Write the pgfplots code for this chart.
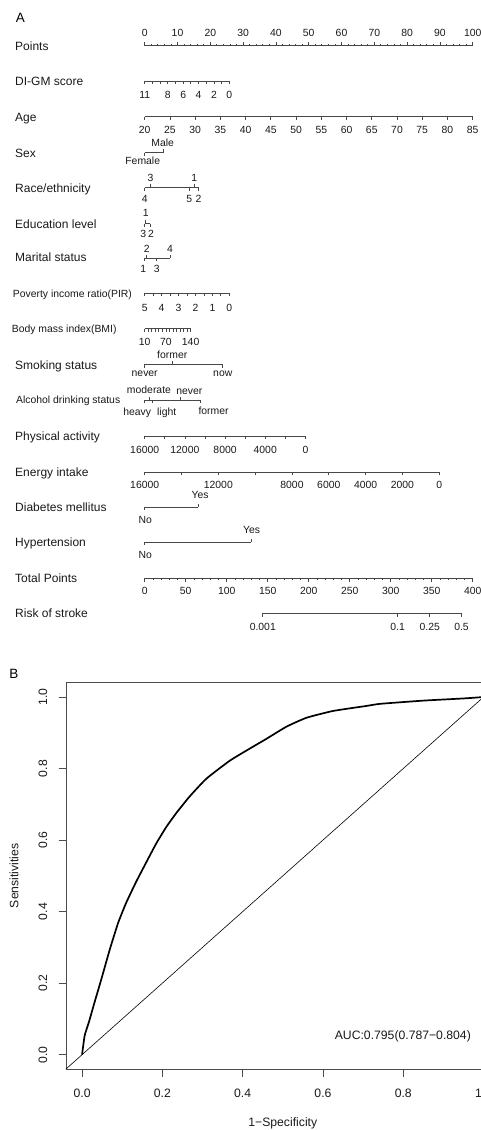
\documentclass[border=0pt]{standalone}
\usepackage{fontspec}
\setmainfont{Liberation Sans}
\usepackage{pgfplots}
\pgfplotsset{compat=1.18}
\newcommand\fL{\fontsize{12}{14}\selectfont}
\newcommand\fS{\fontsize{10.4}{12}\selectfont}
\newcommand\fR{\fontsize{12.2}{14}\selectfont}
\newcommand\fH{\fontsize{13.5}{16}\selectfont}
\pgfplotsset{
  nl/.style={draw=black!72, line width=0.75pt, mark=none},
  tk/.style={draw=black!72, line width=0.75pt, mark=none, quiver={u=0,v=#1}},
  lb/.style={draw=none, mark=none, nodes near coords, point meta=explicit symbolic,
    nodes near coords style={anchor=center, font=\fS, text=black!90, inner sep=0pt, text height=7.45pt, text depth=0pt}},
}
\tikzset{
  rowlab/.style={anchor=west, font=\fL, text=black!90, inner sep=0pt, text height=8.6pt, text depth=0pt},
  rowlabs/.style={anchor=west, font=\fS, text=black!90, inner sep=0pt, text height=7.45pt, text depth=0pt},
}
\begin{document}
\begin{tikzpicture}
\begin{axis}[
  at={(0pt,0pt)}, anchor=north west,
  x=3.28pt, y=1pt, y dir=reverse,
  xmin=-44.116, xmax=102.53, ymin=0, ymax=1130,
  enlargelimits=false, hide axis, clip=false,
]
% panel label
\node[anchor=west, font=\fH, inner sep=0pt, text height=9.7pt, text depth=0pt] at (axis cs:-39.3,18) {A};
\node[anchor=west, font=\fH, inner sep=0pt, text height=9.7pt, text depth=0pt] at (axis cs:-41.3,673.3) {B};
% row labels
\node[rowlab] at (axis cs:-39.54,45.7) {Points};
\node[rowlab] at (axis cs:-39.54,81) {DI-GM score};
\node[rowlab] at (axis cs:-39.54,116.7) {Age};
\node[rowlab] at (axis cs:-39.54,153) {Sex};
\node[rowlab] at (axis cs:-39.54,188.3) {Race/ethnicity};
\node[rowlab] at (axis cs:-39.54,224) {Education level};
\node[rowlab] at (axis cs:-39.54,257.3) {Marital status};
\node[rowlabs] at (axis cs:-40.24,293.3) {Poverty income ratio(PIR)};
\node[rowlabs] at (axis cs:-40.55,328.3) {Body mass index(BMI)};
\node[rowlab] at (axis cs:-39.54,365) {Smoking status};
\node[rowlabs] at (axis cs:-39.24,400) {Alcohol drinking status};
\node[rowlab] at (axis cs:-39.54,435.7) {Physical activity};
\node[rowlab] at (axis cs:-39.54,471.7) {Energy intake};
\node[rowlab] at (axis cs:-39.54,507.3) {Diabetes mellitus};
\node[rowlab] at (axis cs:-39.54,541.7) {Hypertension};
\node[rowlab] at (axis cs:-39.54,578.3) {Total Points};
\node[rowlab] at (axis cs:-39.54,613.3) {Risk of stroke};

% Points
\addplot[nl] coordinates {(0,45.7) (100,45.7)};
\addplot[tk=-4] table[row sep=\\, x=v, y expr=45.7] {v\\0\\10\\20\\30\\40\\50\\60\\70\\80\\90\\100\\};
\addplot[tk=-1.8] table[row sep=\\, x=v, y expr=45.7] {v\\2\\4\\6\\8\\12\\14\\16\\18\\22\\24\\26\\28\\32\\34\\36\\38\\42\\44\\46\\48\\52\\54\\56\\58\\62\\64\\66\\68\\72\\74\\76\\78\\82\\84\\86\\88\\92\\94\\96\\98\\};
\addplot[lb] table[row sep=\\, x=v, y expr=32.3, meta=v] {v\\0\\10\\20\\30\\40\\50\\60\\70\\80\\90\\100\\};

% DI-GM score
\addplot[nl] coordinates {(0,81) (25.8,81)};
\addplot[tk=3] table[row sep=\\, x expr={(11-\thisrow{v})*25.8/11}, y expr=81] {v\\0\\1\\2\\3\\4\\5\\6\\7\\8\\9\\10\\11\\};
\addplot[lb] table[row sep=\\, x expr={(11-\thisrow{v})*25.8/11}, y expr=95, meta=v] {v\\11\\8\\6\\4\\2\\0\\};

% Age
\addplot[nl] coordinates {(0,116.7) (100,116.7)};
\addplot[tk=3.3] table[row sep=\\, x expr={(\thisrow{v}-20)*100/65}, y expr=116.7] {v\\20\\25\\30\\35\\40\\45\\50\\55\\60\\65\\70\\75\\80\\85\\};
\addplot[lb] table[row sep=\\, x expr={(\thisrow{v}-20)*100/65}, y expr=130.2, meta=v] {v\\20\\25\\30\\35\\40\\45\\50\\55\\60\\65\\70\\75\\80\\85\\};

% Sex
\addplot[nl] coordinates {(0,152.5) (5.6,152.5)};
\addplot[tk=3.3] coordinates {(0,152.5)};
\addplot[tk=-3.3] coordinates {(5.6,152.5)};
\addplot[lb] coordinates {(5.5,142.5) [Male] (-0.6,160.5) [Female]};

% Race/ethnicity
\addplot[nl] coordinates {(0,187.7) (16.5,187.7)};
\addplot[tk=3.3] coordinates {(0,187.7) (13.6,187.7) (16.5,187.7)};
\addplot[tk=-3.3] coordinates {(1.8,187.7) (15.1,187.7)};
\addplot[lb] coordinates {(1.8,177.5) [3] (15.1,177.5) [1] (0,199) [4] (13.6,199) [5] (16.4,199) [2]};

% Education level
\addplot[nl] coordinates {(0,223.5) (1.6,223.5)};
\addplot[tk=3.3] coordinates {(0,223.5) (1.6,223.5)};
\addplot[tk=-3.3] coordinates {(0.3,223.5)};
\addplot[lb] coordinates {(0.3,213) [1] (-0.45,234) [3] (1.9,234) [2]};

% Marital status
\addplot[nl] coordinates {(0,258) (7.7,258)};
\addplot[tk=3.3] coordinates {(0,258) (3.7,258)};
\addplot[tk=-3.3] coordinates {(0.6,258) (7.7,258)};
\addplot[lb] coordinates {(0.6,248.5) [2] (7.7,248.5) [4] (-0.4,268.5) [1] (3.7,268.5) [3]};

% Poverty income ratio
\addplot[nl] coordinates {(0,293.3) (25.8,293.3)};
\addplot[tk=3] table[row sep=\\, x expr={(5-\thisrow{v})*25.8/5}, y expr=293.3] {v\\0\\0.5\\1\\1.5\\2\\2.5\\3\\3.5\\4\\4.5\\5\\};
\addplot[lb] table[row sep=\\, x expr={(5-\thisrow{v})*25.8/5}, y expr=307.3, meta=v] {v\\5\\4\\3\\2\\1\\0\\};

% Body mass index
\addplot[nl] coordinates {(0,328.5) (14.0,328.5)};
\addplot[tk=3] table[row sep=\\, x expr={(\thisrow{v}-10)*14.0/130}, y expr=328.5] {v\\10\\20\\30\\40\\50\\60\\70\\80\\90\\100\\110\\120\\130\\140\\};
\addplot[lb] table[row sep=\\, x expr={(\thisrow{v}-10)*14.0/130}, y expr=341.5, meta=v] {v\\10\\70\\140\\};

% Smoking status
\addplot[nl] coordinates {(0,364.3) (23.8,364.3)};
\addplot[tk=3.3] coordinates {(0,364.3) (23.8,364.3)};
\addplot[tk=-3.3] coordinates {(8.4,364.3)};
\addplot[lb] coordinates {(8.4,354.3) [former] (0,372.8) [never] (23.8,372.8) [now]};

% Alcohol drinking status
\addplot[nl] coordinates {(0,400) (17.1,400)};
\addplot[tk=3.3] coordinates {(0,400) (2.4,400) (17.1,400)};
\addplot[tk=-3.3] coordinates {(1.3,400) (10.8,400)};
\addplot[lb] coordinates {(1.3,390) [moderate] (13.6,390.5) [never] (-2.3,411.5) [heavy] (6.7,411.5) [light] (21.0,410.5) [former]};

% Physical activity
\addplot[nl] coordinates {(0,436) (49.0,436)};
\addplot[tk=3.3] table[row sep=\\, x expr={(16000-\thisrow{v})*49.0/16000}, y expr=436] {v\\0\\2000\\4000\\6000\\8000\\10000\\12000\\14000\\16000\\};
\addplot[lb] table[row sep=\\, x expr={(16000-\thisrow{v})*49.0/16000}, y expr=449.5, meta=v] {v\\16000\\12000\\8000\\4000\\0\\};

% Energy intake
\addplot[nl] coordinates {(0,472) (89.8,472)};
\addplot[tk=3.3] table[row sep=\\, x expr={(16000-\thisrow{v})*89.8/16000}, y expr=472] {v\\0\\2000\\4000\\6000\\8000\\10000\\12000\\14000\\16000\\};
\addplot[lb] table[row sep=\\, x expr={(16000-\thisrow{v})*89.8/16000}, y expr=485, meta=v] {v\\16000\\12000\\8000\\6000\\4000\\2000\\0\\};

% Diabetes mellitus
\addplot[nl] coordinates {(0,507) (16.3,507)};
\addplot[tk=3.3] coordinates {(0,507)};
\addplot[tk=-3.3] coordinates {(16.3,507)};
\addplot[lb] coordinates {(16.9,494.5) [Yes] (0.2,519.5) [No]};

% Hypertension
\addplot[nl] coordinates {(0,542) (32.4,542)};
\addplot[tk=3.3] coordinates {(0,542)};
\addplot[tk=-3.3] coordinates {(32.4,542)};
\addplot[lb] coordinates {(32.6,529.5) [Yes] (0.2,555) [No]};

% Total Points
\addplot[nl] coordinates {(0,578.3) (100,578.3)};
\addplot[tk=3.3] table[row sep=\\, x expr={\thisrow{v}/4}, y expr=578.3] {v\\0\\50\\100\\150\\200\\250\\300\\350\\400\\};
\addplot[tk=1.8] table[row sep=\\, x expr={\thisrow{v}/4}, y expr=578.3] {v\\10\\20\\30\\40\\60\\70\\80\\90\\110\\120\\130\\140\\160\\170\\180\\190\\210\\220\\230\\240\\260\\270\\280\\290\\310\\320\\330\\340\\360\\370\\380\\390\\};
\addplot[lb] table[row sep=\\, x expr={\thisrow{v}/4}, y expr=590.5, meta=v] {v\\0\\50\\100\\150\\200\\250\\300\\350\\400\\};

% Risk of stroke
\addplot[nl] coordinates {(36.0,613.3) (96.6,613.3)};
\addplot[tk=3.3] coordinates {(36.0,613.3) (77.1,613.3) (86.9,613.3) (96.6,613.3)};
\addplot[lb] coordinates {(36.0,627) [0.001] (77.1,627) [0.1] (86.9,627) [0.25] (96.6,627) [0.5]};
\end{axis}

\begin{axis}[
  at={(66pt,-1069pt)}, anchor=south west,
  scale only axis, width=433.6pt, height=386.3pt,
  xmin=-0.04, xmax=1.04, ymin=-0.04, ymax=1.04,
  enlargelimits=false,
  axis line style={black!70, line width=0.75pt},
  tick style={black!70, line width=0.75pt},
  tick align=outside, major tick length=7.5pt,
  xtick={0,0.2,0.4,0.6,0.8,1}, xticklabels={0.0,0.2,0.4,0.6,0.8,1.0},
  ytick={0,0.2,0.4,0.6,0.8,1}, yticklabels={0.0,0.2,0.4,0.6,0.8,1.0},
  xtick pos=left, ytick pos=left,
  ticklabel style={font=\fR, text=black!90},
  xticklabel style={anchor=center, yshift=-16.8pt},
  yticklabel style={rotate=90, anchor=center, yshift=15.5pt},
  xlabel={1−Specificity}, ylabel={Sensitivities},
  xlabel style={font=\fR, text=black!90, at={(axis description cs:0.5,-0.1398)}, anchor=center},
  ylabel style={font=\fR, text=black!90, at={(axis description cs:-0.1199,0.5)}, anchor=center},
]
\addplot[black, line width=0.6pt] coordinates {(-0.04,-0.04) (1.04,1.04)};
\addplot[black, line width=1.7pt, line join=round, smooth, tension=0.3] coordinates {
(0,0) (0.0066,0.054) (0.017,0.091) (0.031,0.146) (0.048,0.211) (0.069,0.294)
(0.090,0.369) (0.110,0.425) (0.135,0.484) (0.160,0.538) (0.185,0.591) (0.210,0.637)
(0.235,0.676) (0.268,0.722) (0.310,0.772) (0.368,0.822) (0.418,0.856) (0.459,0.883)
(0.509,0.917) (0.559,0.942) (0.625,0.961) (0.708,0.975) (0.743,0.981) (0.851,0.990)
(0.95,0.996) (1,1)};
\node[font=\fR, text=black!90, anchor=center] at (axis cs:0.799,0.052) {AUC:0.795(0.787−0.804)};
\end{axis}
\pgfresetboundingbox
\path[use as bounding box] (0pt,0pt) rectangle (481pt,-1130pt);
\end{tikzpicture}
\end{document}
